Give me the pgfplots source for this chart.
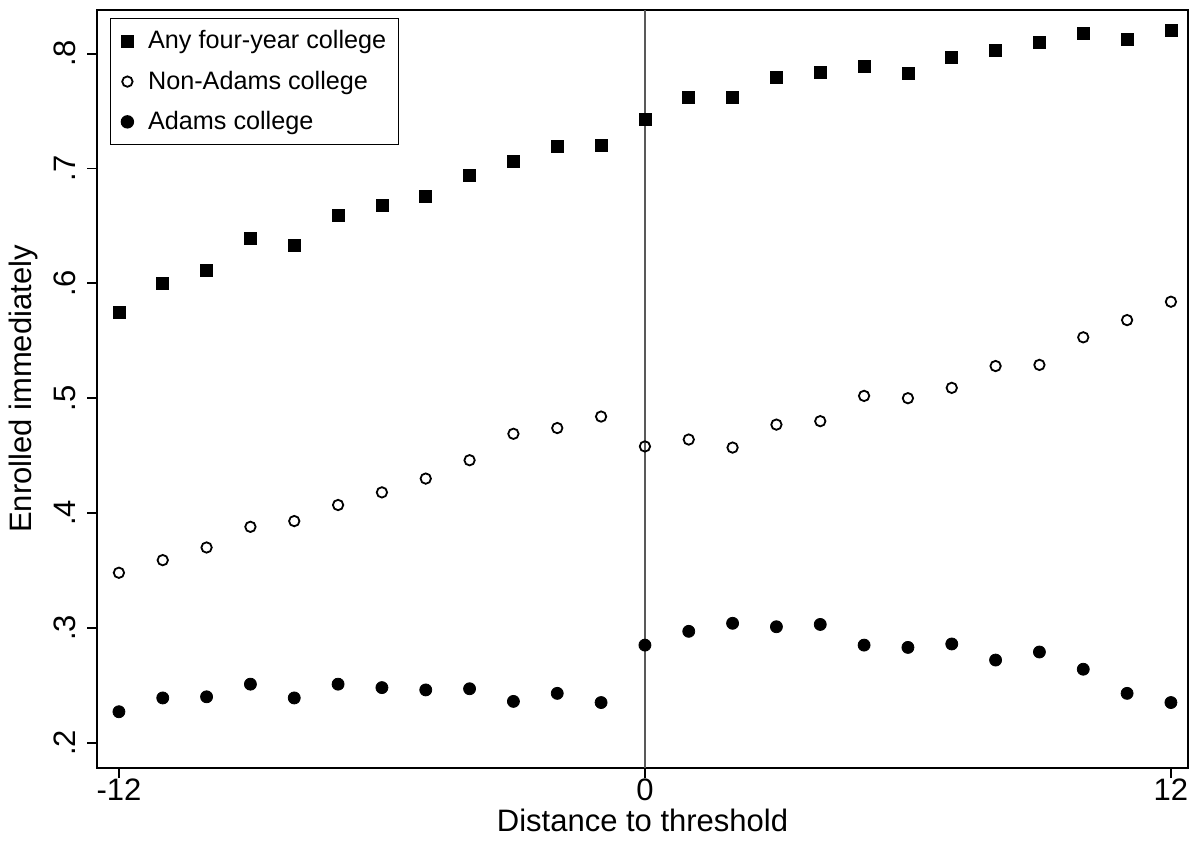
\documentclass[border=0pt]{standalone}
\usepackage{pgfplots}
\pgfplotsset{compat=1.18}
\usepackage{fontspec}
\setmainfont{Liberation Sans}
\begin{document}
\begin{tikzpicture}
\begin{axis}[
  at={(0,0)}, anchor=south west, scale only axis,
  width=545.5pt, height=379pt,
  xmin=-12.5, xmax=12.39, ymin=0.178, ymax=0.838,
  xtick={-12,0,12}, ytick={0.2,0.3,0.4,0.5,0.6,0.7,0.8},
  yticklabels={.2,.3,.4,.5,.6,.7,.8},
  xticklabels={-12,0,12},
  tick align=outside, tick pos=left, major tick length=5pt,
  yticklabel style={rotate=90, anchor=south, yshift=2pt},
  xticklabel style={yshift=3pt},
  tick label style={font=\fontsize{15.5}{17}\selectfont},
  label style={font=\fontsize{15.5}{17}\selectfont},
  xlabel={Distance to threshold}, ylabel={Enrolled immediately},
  xlabel style={yshift=3pt}, ylabel style={yshift=1pt},
  /pgf/number format/assume math mode=true,
  axis line style={line width=0.9pt},
  every tick/.style={line width=0.9pt, black},
  legend style={at={(rel axis cs:0,1)}, anchor=north west, xshift=6.5pt, yshift=-4pt,
    font=\fontsize{12.6}{14}\selectfont, draw=black, line width=0.7pt, inner xsep=4pt, inner ysep=4pt,
    row sep=5.5pt, cells={anchor=west}},
  legend cell align=left,
  legend image code/.code={\path (0pt,0pt) (12pt,0pt); \draw[#1, only marks] plot coordinates {(4pt,0pt)};},
]
\addplot[only marks, mark=square*, mark size=3pt, black] coordinates {
(-12,0.575)(-11,0.600)(-10,0.611)(-9,0.639)(-8,0.633)(-7,0.659)(-6,0.668)(-5,0.676)(-4,0.694)(-3,0.706)(-2,0.719)(-1,0.720)(0,0.743)(1,0.762)(2,0.762)(3,0.779)(4,0.784)(5,0.789)(6,0.783)(7,0.797)(8,0.803)(9,0.810)(10,0.818)(11,0.812)(12,0.820)};
\addlegendentry{Any four-year college}
\addplot[only marks, mark=o, mark size=2.6pt, black, mark options={line width=0.9pt, fill=white}] coordinates {
(-12,0.348)(-11,0.359)(-10,0.370)(-9,0.388)(-8,0.393)(-7,0.407)(-6,0.418)(-5,0.430)(-4,0.446)(-3,0.469)(-2,0.474)(-1,0.484)(0,0.458)(1,0.464)(2,0.457)(3,0.477)(4,0.480)(5,0.502)(6,0.500)(7,0.509)(8,0.528)(9,0.529)(10,0.553)(11,0.568)(12,0.584)};
\addlegendentry{Non-Adams college}
\addplot[only marks, mark=*, mark size=3pt, black] coordinates {
(-12,0.227)(-11,0.239)(-10,0.240)(-9,0.251)(-8,0.239)(-7,0.251)(-6,0.248)(-5,0.246)(-4,0.247)(-3,0.236)(-2,0.243)(-1,0.235)(0,0.285)(1,0.297)(2,0.304)(3,0.301)(4,0.303)(5,0.285)(6,0.283)(7,0.286)(8,0.272)(9,0.279)(10,0.264)(11,0.243)(12,0.235)};
\addlegendentry{Adams college}
\draw[black!65, line width=1.2pt] (axis cs:0,0.178) -- (axis cs:0,0.838);
\end{axis}
\pgfresetboundingbox
\path (-48.5pt,-39pt) rectangle (550pt,384pt);
\end{tikzpicture}
\end{document}
